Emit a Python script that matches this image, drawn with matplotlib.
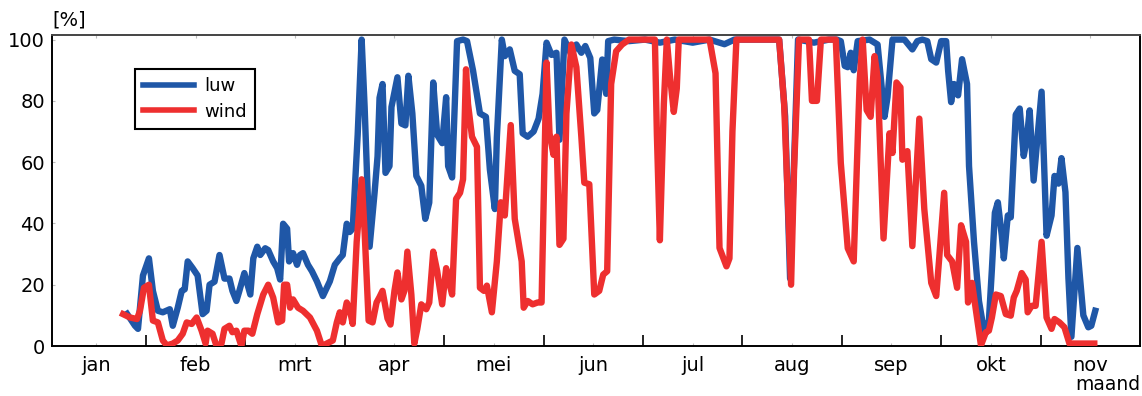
import matplotlib
matplotlib.use("Agg")
import matplotlib.pyplot as plt
import numpy as np

# x positions in months (0 = 1 Jan, months drawn with equal width)
luw_x = [0.81, 0.89, 0.92, 0.97, 1.03, 1.07, 1.12, 1.17, 1.24, 1.27, 1.32, 1.36, 1.39, 1.42, 1.47,
         1.52, 1.57, 1.61, 1.64, 1.69, 1.74, 1.79, 1.84, 1.87, 1.91, 1.94, 1.99, 2.05, 2.08, 2.12,
         2.15, 2.20, 2.23, 2.28, 2.32, 2.35, 2.38, 2.42, 2.44, 2.48, 2.52, 2.55, 2.58, 2.63, 2.67,
         2.72, 2.78, 2.85, 2.90, 2.95, 2.98, 3.02, 3.05, 3.08, 3.13, 3.17, 3.20, 3.25, 3.30, 3.33,
         3.35, 3.38, 3.41, 3.45, 3.47, 3.53, 3.57, 3.61, 3.64, 3.68, 3.72, 3.77, 3.81, 3.85, 3.89,
         3.93, 3.98, 4.02, 4.04, 4.08, 4.13, 4.19, 4.23, 4.29, 4.36, 4.42, 4.46, 4.51, 4.53, 4.58,
         4.61, 4.66, 4.71, 4.76, 4.79, 4.84, 4.90, 4.95, 4.99, 5.03, 5.08, 5.13, 5.16, 5.21, 5.28,
         5.33, 5.38, 5.42, 5.47, 5.51, 5.54, 5.59, 5.63, 5.65, 5.71, 5.86, 6.02, 6.17, 6.32, 6.50,
         6.67, 6.82, 6.92, 7.17, 7.37, 7.43, 7.48, 7.52, 7.56, 7.72, 7.87, 7.95, 7.99, 8.03, 8.06,
         8.09, 8.12, 8.16, 8.28, 8.36, 8.43, 8.46, 8.51, 8.63, 8.71, 8.76, 8.81, 8.86, 8.90, 8.95,
         9.00, 9.05, 9.07, 9.10, 9.13, 9.17, 9.21, 9.26, 9.28, 9.33, 9.38, 9.43, 9.48, 9.51, 9.54,
         9.57, 9.61, 9.63, 9.67, 9.70, 9.75, 9.79, 9.83, 9.86, 9.89, 9.93, 10.01, 10.06, 10.11, 10.14,
         10.18, 10.21, 10.25, 10.28, 10.31, 10.37, 10.43, 10.48, 10.51, 10.55]
luw_y = [10.5, 6.6, 5.6, 23, 28.6, 18, 11.5, 11, 12, 6.6, 12.5, 18, 18.5, 27.6, 25.4,
         23, 10.4, 11.5, 20, 21, 29.7, 22, 22, 18, 14.7, 18, 23.8, 16.8, 28.6, 32.4,
         29.7, 31.9, 31.3, 27.6, 25.4, 21.7, 39.9, 38.3, 27.6, 30.3, 26.5, 29.7, 30.3, 26.5, 24.4,
         21.1, 16.3, 21.1, 26.5, 28.6, 29.7, 39.9, 37.2, 38.3, 68.9, 100, 78, 32.4, 50, 61.9,
         81, 85.5, 56.5, 58.7, 78, 87.7, 72.6, 72, 88.2, 75.9, 55.5, 52.3, 41.5, 46.8, 86,
         68.9, 66.2, 81.2, 58.7, 55, 99.5, 100, 99.5, 90, 75.9, 74.8, 57.6, 44.7, 68, 100,
         94.6, 96.8, 89.8, 88.7, 69.4, 68.3, 70, 74.2, 82.3, 99, 95, 95.7, 67.3, 100, 95,
         98.4, 95.7, 97.9, 94, 75.9, 77, 93.5, 82.3, 99.5, 100, 99.5, 100, 99, 100, 99,
         100, 98.5, 100, 100, 100, 75, 22, 60, 100, 99, 100, 100, 99.5, 91.4, 91,
         95.7, 90, 99.5, 100, 98.4, 74.8, 81.2, 100, 100, 96.8, 99.5, 100, 99.5, 93.6, 92.5,
         99.5, 99.5, 89.8, 79.6, 85.5, 81.8, 93.6, 85.5, 58.7, 34, 14.7, 5, 8.3, 25, 43.5,
         46.9, 36, 28.6, 42.6, 42, 75.5, 77.5, 62, 67.3, 76.9, 54, 83, 36, 42.6, 55.5,
         53, 61.3, 50.2, 22.2, 3, 32, 10, 6.1, 6.6, 11.5]

wind_x = [0.77, 0.84, 0.91, 0.94, 0.98, 1.03, 1.07, 1.12, 1.17, 1.21, 1.27, 1.32, 1.37, 1.41, 1.46,
          1.51, 1.56, 1.60, 1.62, 1.67, 1.71, 1.76, 1.79, 1.84, 1.87, 1.91, 1.96, 1.99, 2.03, 2.07,
          2.12, 2.18, 2.23, 2.28, 2.33, 2.37, 2.39, 2.42, 2.45, 2.48, 2.53, 2.58, 2.65, 2.72, 2.77,
          2.82, 2.88, 2.92, 2.95, 2.98, 3.02, 3.05, 3.08, 3.12, 3.17, 3.20, 3.24, 3.28, 3.32, 3.35,
          3.38, 3.43, 3.46, 3.50, 3.53, 3.57, 3.60, 3.63, 3.67, 3.70, 3.73, 3.77, 3.82, 3.85, 3.89,
          3.93, 3.98, 4.02, 4.04, 4.08, 4.12, 4.16, 4.19, 4.22, 4.24, 4.28, 4.33, 4.36, 4.40, 4.43,
          4.48, 4.53, 4.57, 4.61, 4.67, 4.71, 4.78, 4.80, 4.84, 4.89, 4.94, 4.98, 5.03, 5.06, 5.10,
          5.13, 5.16, 5.20, 5.23, 5.28, 5.33, 5.38, 5.41, 5.46, 5.51, 5.56, 5.60, 5.64, 5.68, 5.73,
          5.79, 5.86, 6.12, 6.14, 6.17, 6.21, 6.24, 6.27, 6.31, 6.34, 6.36, 6.67, 6.73, 6.77, 6.84,
          6.87, 6.90, 6.94, 7.37, 7.42, 7.49, 7.52, 7.57, 7.67, 7.70, 7.75, 7.79, 7.94, 7.99, 8.06,
          8.12, 8.18, 8.21, 8.25, 8.29, 8.33, 8.36, 8.42, 8.48, 8.51, 8.55, 8.59, 8.61, 8.66, 8.71,
          8.78, 8.83, 8.90, 8.95, 8.98, 9.03, 9.06, 9.11, 9.16, 9.20, 9.25, 9.27, 9.31, 9.35, 9.40,
          9.45, 9.48, 9.51, 9.55, 9.60, 9.65, 9.70, 9.73, 9.76, 9.81, 9.85, 9.87, 9.91, 9.95, 10.01,
          10.06, 10.11, 10.14, 10.19, 10.24, 10.29, 10.54]
wind_y = [10.4, 9.3, 8.8, 11.5, 19, 20, 8.3, 7.7, 1.8, 0.2, 0.8, 1.8, 4, 7.7, 7.2,
          9.3, 5, 0.8, 5, 4, 0, 0.8, 5.6, 6.6, 4.5, 5, 0, 5, 5, 4,
          10.4, 16.8, 20, 15.8, 7.7, 8.3, 20, 20, 12.5, 15.2, 12.5, 11.5, 9.3, 5, 0,
          0.8, 1.8, 7.7, 11, 7.7, 14.2, 12, 7.2, 34, 54.4, 37.2, 8.3, 7.7, 14.2, 16,
          18, 9, 7, 18, 24, 15.2, 18, 30.8, 16.8, 0.8, 5.6, 13.6, 12, 14.2, 30.8,
          24.4, 13.6, 25.4, 22.2, 16.8, 48, 50, 54.4, 90.3, 79, 68.3, 65, 19, 18, 19.7,
          11, 27.6, 46.9, 42.6, 72.1, 41.5, 27.6, 12.5, 14.7, 13.6, 14.2, 14.2, 92.5, 69.4, 62.4,
          68.3, 33, 35, 75.9, 98.4, 91, 68.3, 53.3, 52.8, 16.8, 18, 23.3, 24.4, 85.5, 96.2,
          98.4, 100, 100, 69, 34.5, 79, 100, 88.7, 76.4, 84, 100, 100, 89, 32, 26,
          28.6, 70, 100, 100, 79, 20, 57.6, 100, 100, 80, 80, 100, 100, 59.8, 31.9,
          27.6, 86.6, 100, 77, 74.8, 94.6, 87.7, 35.1, 69.4, 63, 86, 84.4, 60.8, 63.6, 32.6,
          74.2, 44.7, 20.6, 16.3, 28.6, 50, 29.7, 27.6, 19, 39.4, 34, 14.2, 20.6, 11.5, 0.2,
          4.5, 5, 9.3, 16.8, 16.3, 10.4, 9.9, 15.8, 18, 23.8, 21.7, 11, 13.1, 13.1, 34,
          9.3, 5.6, 8.8, 7.7, 6.1, 0.8, 0.8]

months = ["jan", "feb", "mrt", "apr", "mei", "jun", "jul", "aug", "sep", "okt", "nov"]
y_ticks = [0, 20, 40, 60, 80, 100]

plt.rcParams['font.family'] = ['DejaVu Sans']

fig = plt.figure(figsize=(11.42, 3.96), dpi=100)
ax = fig.add_axes([52 / 1142, 1 - 346 / 396, 1088 / 1142, 311 / 396])

blue = "#1f57a7"
red = "#ee2f2f"
ax.plot(luw_x, luw_y, color=blue, lw=4.6, solid_joinstyle="round", label="luw", zorder=3)
ax.plot(wind_x, wind_y, color=red, lw=4.6, solid_joinstyle="round", label="wind", zorder=4)

ax.set_xlim(0.055, 11.0)
ax.set_ylim(0, 101.5)

# major ticks at month boundaries, labels at month centres
ax.set_xticks(np.arange(1, len(months)))
ax.set_xticklabels([])
ax.set_xticks(np.arange(len(months)) + 0.5, minor=True)
ax.set_xticklabels(months, minor=True, fontsize=14)
ax.tick_params(axis="x", which="major", direction="in", length=8, width=1.2,
               color="black", top=False, bottom=True)
ax.tick_params(axis="x", which="minor", direction="in", length=2.5, width=0.8,
               color="#bbbbbb", top=True, bottom=True, pad=7)

ax.set_yticks(y_ticks)
ax.set_yticklabels([str(v) for v in y_ticks], fontsize=14)
ax.tick_params(axis="y", direction="in", length=2.5, width=0.8, color="#bbbbbb", pad=5)

for s in ax.spines.values():
    s.set_linewidth(1.4)
    s.set_color("black")
ax.spines["top"].set_color("#444444")

leg = ax.legend(loc="upper left", bbox_to_anchor=(0.0763, 0.89), fontsize=13,
                frameon=True, fancybox=False, framealpha=1, edgecolor="black",
                handlelength=2.8, handletextpad=0.6, borderpad=0.45,
                labelspacing=0.4, borderaxespad=0)
leg.get_frame().set_linewidth(1.5)
for h in leg.get_lines():
    h.set_linewidth(4.0)

fig.text(52 / 1142, 1 - 20 / 396, "[%]", fontsize=14, ha="left", va="center")
fig.text(1140 / 1142, 1 - 385 / 396, "maand", fontsize=13.5, ha="right", va="center")

fig.savefig("out.png", dpi=100)
